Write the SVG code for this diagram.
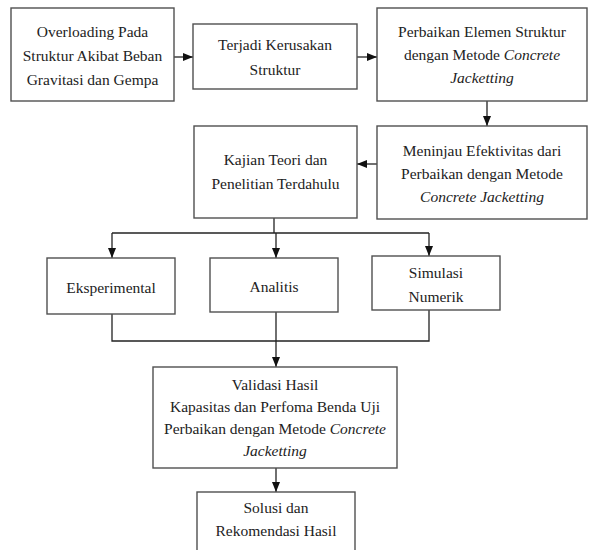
<svg xmlns="http://www.w3.org/2000/svg" width="589" height="550" viewBox="0 0 589 550">
<style>
.box{fill:#fff;stroke:#505050;stroke-width:1.4}
.t{font-size:15.5px;fill:#222;text-anchor:middle}
.i{font-style:italic}
.c{fill:none;stroke:#222;stroke-width:1.3}
</style>
<defs>
<marker id="ah" markerUnits="userSpaceOnUse" markerWidth="10" markerHeight="10" viewBox="0 0 10 10" refX="10" refY="5" orient="auto">
<path d="M0,1 L10,5 L0,9 Z" fill="#111"/>
</marker>
</defs>
<rect width="589" height="550" fill="#fff"/>
<g id="connectors">
<line class="c" x1="174" y1="57" x2="193" y2="57" marker-end="url(#ah)"/>
<line class="c" x1="357" y1="57" x2="377" y2="57" marker-end="url(#ah)"/>
<line class="c" x1="487" y1="101" x2="487" y2="126" marker-end="url(#ah)"/>
<line class="c" x1="377" y1="164" x2="357" y2="164" marker-end="url(#ah)"/>
<polyline class="c" points="274,218 274,233"/>
<polyline class="c" points="112,233 429,233"/>
<line class="c" x1="112" y1="233" x2="112" y2="258" marker-end="url(#ah)"/>
<line class="c" x1="276" y1="233" x2="276" y2="258" marker-end="url(#ah)"/>
<line class="c" x1="429" y1="233" x2="429" y2="256" marker-end="url(#ah)"/>
<polyline class="c" points="112,314 112,341 429,341 429,310"/>
<line class="c" x1="276" y1="312" x2="276" y2="367" marker-end="url(#ah)"/>
<line class="c" x1="276" y1="468" x2="276" y2="492" marker-end="url(#ah)"/>
</g>
<g font-family="'Liberation Serif', 'Times New Roman', 'DejaVu Serif', serif">
<g id="n1">
<rect class="box" x="11" y="8" width="163" height="93"/>
<text class="t" x="92.5" y="37">Overloading Pada</text>
<text class="t" x="92.5" y="61">Struktur Akibat Beban</text>
<text class="t" x="92.5" y="85">Gravitasi dan Gempa</text>
</g>
<g id="n2">
<rect class="box" x="193" y="24" width="164" height="65"/>
<text class="t" x="275" y="50">Terjadi Kerusakan</text>
<text class="t" x="275" y="75">Struktur</text>
</g>
<g id="n3">
<rect class="box" x="377" y="8" width="210" height="93"/>
<text class="t" x="482" y="37">Perbaikan Elemen Struktur</text>
<text class="t" x="482" y="60">dengan Metode <tspan class="i">Concrete</tspan></text>
<text class="t i" x="482" y="83">Jacketting</text>
</g>
<g id="n4">
<rect class="box" x="377" y="126" width="210" height="93"/>
<text class="t" x="482" y="156">Meninjau Efektivitas dari</text>
<text class="t" x="482" y="179">Perbaikan dengan Metode</text>
<text class="t i" x="482" y="202">Concrete Jacketting</text>
</g>
<g id="n5">
<rect class="box" x="194" y="126" width="163" height="92"/>
<text class="t" x="275.5" y="165">Kajian Teori dan</text>
<text class="t" x="275.5" y="189">Penelitian Terdahulu</text>
</g>
<g id="n6">
<rect class="box" x="47" y="258" width="128" height="56"/>
<text class="t" x="111" y="293">Eksperimental</text>
</g>
<g id="n7">
<rect class="box" x="210" y="258" width="128" height="54"/>
<text class="t" x="274" y="292">Analitis</text>
</g>
<g id="n8">
<rect class="box" x="372" y="256" width="128" height="54"/>
<text class="t" x="436" y="278">Simulasi</text>
<text class="t" x="436" y="302">Numerik</text>
</g>
<g id="n9">
<rect class="box" x="153" y="367" width="244" height="101"/>
<text class="t" x="275" y="390">Validasi Hasil</text>
<text class="t" x="275" y="412">Kapasitas dan Perfoma Benda Uji</text>
<text class="t" x="275" y="434">Perbaikan dengan Metode <tspan class="i">Concrete</tspan></text>
<text class="t i" x="275" y="456">Jacketting</text>
</g>
<g id="n10">
<rect class="box" x="197" y="492" width="158" height="70"/>
<text class="t" x="276" y="513">Solusi dan</text>
<text class="t" x="276" y="536">Rekomendasi Hasil</text>
</g>
</g>
</svg>
